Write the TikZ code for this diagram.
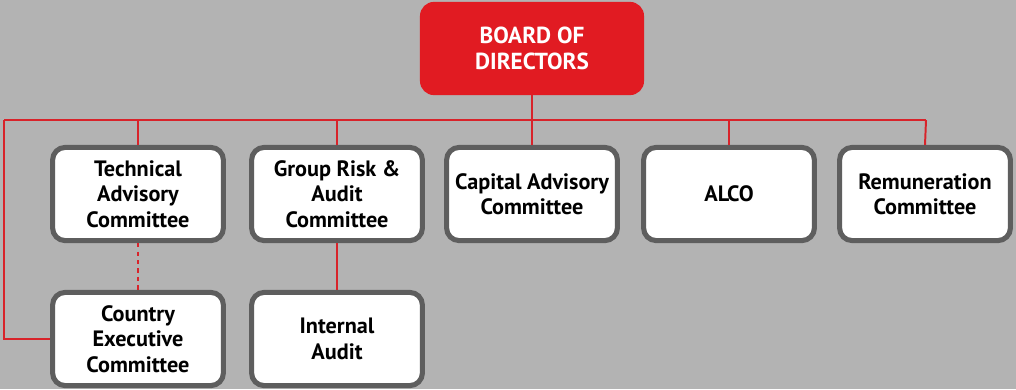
\documentclass[tikz,border=0pt]{standalone}
\usepackage{fontspec}
\setmainfont{PT Sans}
\definecolor{bgGray}{HTML}{B3B3B3}
\definecolor{boardRed}{HTML}{E11B22}
\definecolor{lineRed}{HTML}{D8232A}
\definecolor{boxGray}{HTML}{5E5E5E}

\begin{document}
\begin{tikzpicture}[x=0.025cm,y=-0.025cm,
  committee/.style={draw=boxGray, line width=3.6pt, fill=white, rounded corners=9pt,
    minimum width=4.27cm, minimum height=2.33cm, inner sep=0pt, align=center,
    font=\bfseries\fontsize{15.8}{18}\selectfont},
  board/.style={fill=boardRed, text=white, rounded corners=10pt,
    minimum width=5.6cm, minimum height=2.33cm, inner sep=0pt, align=center,
    font=\bfseries\fontsize{16.5}{19}\selectfont},
  link/.style={draw=lineRed, line width=1.4pt}]
\useasboundingbox (0,0) rectangle (1016,389);
\fill [bgGray] (0,0) rectangle (1016,389);

\node [board] (bod) at (532,48.5) {BOARD OF\\DIRECTORS};

\node [committee] (tac) at (138,194) {Technical\\Advisory\\Committee};
\node [committee] (grac) at (337,194) {Group Risk \&\\Audit\\Committee};
\node [committee] (cac) at (532,194) {Capital Advisory\\Committee};
\node [committee] (alco) at (729,194) {ALCO};
\node [committee] (rem) at (925,194) {Remuneration\\Committee};

\node [committee] (cec) at (138,339) {Country\\Executive\\Committee};
\node [committee] (ia) at (337,339) {Internal\\Audit};

% bus line
\coordinate (busL) at (4,120);
\coordinate (busR) at (926,120);
\draw [link] (bod) -- (bod |- busL);
\draw [link] (busL) -- (busR);
\foreach \n in {tac,grac,cac,alco} \draw [link] (\n.north |- busL) -- (\n.north);
\draw [link] (busR) -- (rem.north);
\draw [link] (busL) |- (cec.west);

\draw [link, dashed] (tac) -- (cec);
\draw [link] (grac) -- (ia);
\end{tikzpicture}
\end{document}
